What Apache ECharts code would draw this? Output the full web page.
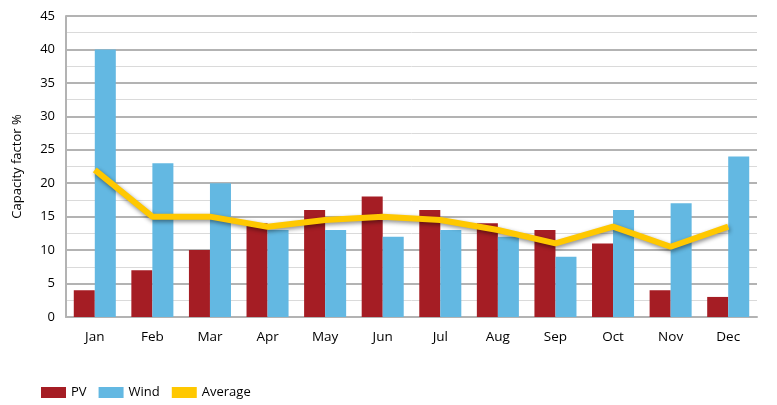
<!DOCTYPE html>
<html>
<head>
<meta charset="utf-8">
<script src="https://cdn.jsdelivr.net/npm/echarts@6/dist/echarts.min.js"></script>
<style>html,body{margin:0;padding:0;background:#fff;}#c{width:777px;height:405px;}</style>
</head>
<body>
<div id="c"></div>
<script>
var months = ['Jan','Feb','Mar','Apr','May','Jun','Jul','Aug','Sep','Oct','Nov','Dec'];
var pv = [4, 7, 10, 14, 16, 18, 16, 14, 13, 11, 4, 3];
var wind = [40, 23, 20, 13, 13, 12, 13, 12, 9, 16, 17, 24];
var average = [22, 15, 15, 13.5, 14.5, 15, 14.5, 13, 11, 13.5, 10.5, 13.5];
var yTicks = [0, 5, 10, 15, 20, 25, 30, 35, 40, 45];

var font = '"Open Sans", sans-serif';
var chart = echarts.init(document.getElementById('c'));
chart.setOption({
  animation: false,
  textStyle: {fontFamily: font},
  grid: {left: 66, right: 20, top: 16, bottom: 88},
  legend: {
    left: 41, bottom: 6, padding: 0, icon: 'rect', itemWidth: 25, itemHeight: 11, itemGap: 12,
    textStyle: {fontFamily: font, fontSize: 13, color: '#000'},
    data: ['PV', 'Wind', 'Average']
  },
  xAxis: {
    type: 'category', data: months, boundaryGap: true,
    axisLine: {lineStyle: {color: '#b3b3b3', width: 2}},
    axisTick: {inside: true, length: 7, lineStyle: {color: '#b3b3b3', width: 2}},
    axisLabel: {color: '#000', fontSize: 13.5, margin: 13, fontFamily: font}
  },
  yAxis: {
    type: 'value', min: yTicks[0], max: yTicks[yTicks.length - 1], interval: 5,
    name: 'Capacity factor %', nameLocation: 'middle', nameGap: 42,
    nameTextStyle: {color: '#000', fontSize: 13, fontFamily: font},
    axisLine: {show: true, lineStyle: {color: '#b3b3b3', width: 2}},
    axisTick: {show: false},
    axisLabel: {color: '#000', fontSize: 13, margin: 11, fontFamily: font},
    splitLine: {lineStyle: {color: '#b3b3b3', width: 2}},
    minorTick: {show: false, splitNumber: 2},
    minorSplitLine: {show: true, lineStyle: {color: '#dadada', width: 1}}
  },
  series: [
    {name: 'PV', type: 'bar', data: pv, barGap: '0%', barCategoryGap: '27%',
     itemStyle: {color: '#a51d24'}},
    {name: 'Wind', type: 'bar', data: wind, barGap: '0%', barCategoryGap: '27%',
     itemStyle: {color: '#63b8e2'}},
    {name: 'Average', type: 'line', data: average, symbol: 'none',
     itemStyle: {color: '#ffc800'},
     lineStyle: {color: '#ffc800', width: 6, shadowColor: 'rgba(0,0,0,0.45)', shadowBlur: 4, shadowOffsetX: 1, shadowOffsetY: 2}}
  ]
});
</script>
</body>
</html>
